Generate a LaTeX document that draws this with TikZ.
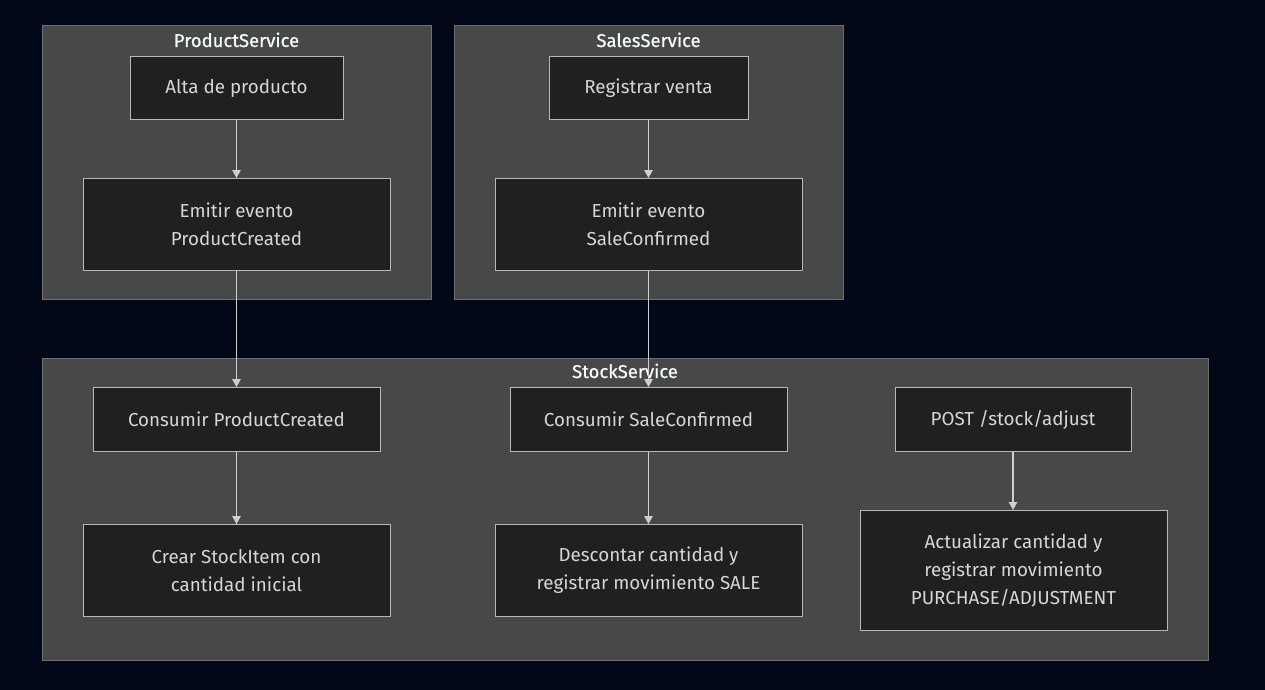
\documentclass[tikz,border=0pt]{standalone}
\usepackage{fontspec}
\setmainfont{Fira Sans}
\usetikzlibrary{arrows.meta}
\definecolor{bgc}{HTML}{020818}
\definecolor{clfill}{HTML}{474949}
\definecolor{clline}{HTML}{6E7070}
\definecolor{nfill}{HTML}{1F2020}
\definecolor{nline}{HTML}{B8B8B8}
\definecolor{ntext}{HTML}{D6D6D6}
\definecolor{ttext}{HTML}{F9FFFE}
\definecolor{lnc}{HTML}{CFCFCF}
\begin{document}
\begin{tikzpicture}[x=1pt,y=-1pt,
  cluster/.style={draw=clline, fill=clfill, line width=1pt, inner sep=0pt},
  box/.style={draw=nline, fill=nfill, line width=1pt, inner sep=0pt, text=ntext,
    align=center, font=\fontsize{18.8}{28}\selectfont},
  title/.style={text=ttext, inner sep=0pt, anchor=base, font=\fontsize{18.5}{20}\selectfont\addfontfeature{FakeBold=0.6}},
  arr/.style={draw=lnc, line width=1.3pt, -{Triangle[length=8pt,width=8.5pt]}}]
\fill[bgc] (0,0) rectangle (1265,690);
\useasboundingbox (0,0) rectangle (1265,690);
% clusters
\node[cluster, minimum width=389pt, minimum height=273pt] (ps) at (236.5,162.5) {};
\node[cluster, minimum width=389pt, minimum height=273pt] (ss) at (648.5,162.5) {};
\node[cluster, minimum width=1166pt, minimum height=302pt] (st) at (625,509) {};
\node[title] (pst) at (236.5,47) {ProductService};
\node[title] (sst) at (648.5,47) {SalesService};
\node[title] (stt) at (625,378) {StockService};
% ProductService nodes
\node[box, minimum width=213pt, minimum height=63pt] (p1) at (236.5,88) {Alta de producto};
\node[box, minimum width=307pt, minimum height=92pt] (p2) at (236.5,224.5) {Emitir evento\\ProductCreated};
% SalesService nodes
\node[box, minimum width=199pt, minimum height=63pt] (s1) at (648.5,88) {Registrar venta};
\node[box, minimum width=307pt, minimum height=92pt] (s2) at (648.5,224.5) {Emitir evento\\SaleConfirmed};
% StockService nodes
\node[box, minimum width=287pt, minimum height=64pt] (c1) at (236.5,419.5) {Consumir ProductCreated};
\node[box, minimum width=307pt, minimum height=92pt] (c2) at (236.5,570.5) {Crear StockItem con\\cantidad inicial};
\node[box, minimum width=277pt, minimum height=64pt] (d1) at (648.5,419.5) {Consumir SaleConfirmed};
\node[box, minimum width=307pt, minimum height=92pt] (d2) at (648.5,570.5) {Descontar cantidad y\\registrar movimiento SALE};
\node[box, minimum width=236pt, minimum height=64pt] (a1) at (1013,419.5) {POST /stock/adjust};
\node[box, minimum width=307pt, minimum height=120pt] (a2) at (1013.5,570.5) {Actualizar cantidad y\\registrar movimiento\\PURCHASE/ADJUSTMENT};
% connectors
\draw[arr] (p1) -- (p2);
\draw[arr] (s1) -- (s2);
\draw[arr] (p2) -- (c1);
\draw[arr] (s2) -- (d1);
\draw[arr] (c1) -- (c2);
\draw[arr] (d1) -- (d2);
\draw[arr] (a1.south) -- (a1.south |- a2.north);
\end{tikzpicture}
\end{document}
